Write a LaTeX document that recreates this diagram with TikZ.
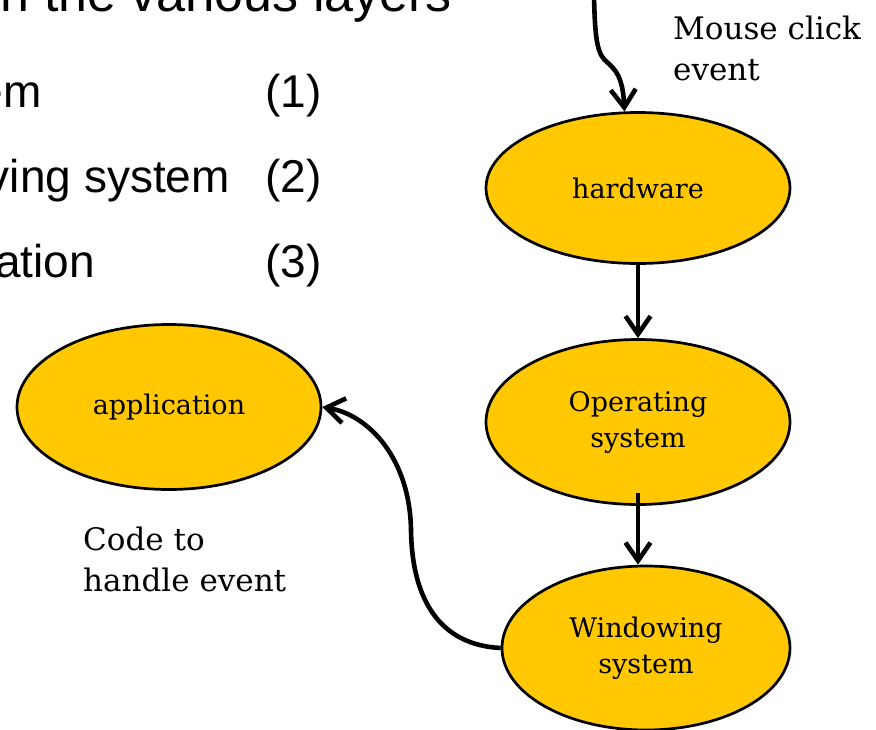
\documentclass[tikz,border=0pt]{standalone}
\usepackage{fontspec}
\setmainfont{DejaVu Serif}
\newfontfamily\arialfont{Liberation Sans}
\usetikzlibrary{arrows.meta,shapes.geometric}
\definecolor{gold}{RGB}{255,200,0}
\tikzset{
 layer/.style={ellipse, draw=black, line width=2.7pt, fill=gold, inner sep=0pt,
   font=\fontsize{27}{36}\selectfont, align=center},
 flow/.style={line width=4.6pt, -{Straight Barb[length=18pt,width=25pt]}},
 note/.style={font=\fontsize{31}{41}\selectfont, align=left, inner sep=0pt},
 slide/.style={font=\arialfont\fontsize{46}{46}\selectfont, inner sep=0pt},
 slidetitle/.style={font=\arialfont\fontsize{52}{52}\selectfont, inner sep=0pt},
}
\begin{document}
\begin{tikzpicture}[x=1pt,y=-1pt]
\useasboundingbox (0,0) rectangle (876,729);
\clip (0,0) rectangle (876,729);

% slide text (cropped)
\node[slidetitle, anchor=base east] (t0) at (452,11) {n the various layers};
\node[slide, anchor=base east] (b1) at (42,107) {em};
\node[slide, anchor=base east] (b2) at (230,192) {ving system};
\node[slide, anchor=base east] (b3) at (95,277) {ation};
\node[slide, anchor=base west] (n1) at (265,107) {(1)};
\node[slide, anchor=base west] (n2) at (265,192) {(2)};
\node[slide, anchor=base west] (n3) at (265,277) {(3)};

% layers
\node[layer, minimum width=304pt, minimum height=151pt] (hw) at (638,188) {hardware};
\node[layer, minimum width=304pt, minimum height=165pt] (os) at (638,422) {Operating\\system};
\node[layer, minimum width=288pt, minimum height=164pt] (win) at (646,648) {Windowing\\system};
\node[layer, minimum width=304pt, minimum height=165pt] (app) at (169,407) {application};

% labels
\node[note, anchor=north west] (mouse) at (673,16) {Mouse click\\event};
\node[note, anchor=north west] (code) at (83,527) {Code to\\handle event};

% connectors
\coordinate (click) at (594,-5);
\draw[flow] (click) .. controls (595,45) and (598,55) .. (608,63)
   .. controls (620,73) and (623,85) .. (hw.100);
\draw[flow] (hw.south) -- (os.north);
\draw[flow] ([yshift=13pt]os.south) -- (os.south |- win.north);
\draw[flow] (win.west) .. controls (440,645) and (412,600) .. (411,530)
   .. controls (410,460) and (370,415) .. (app.east);
\end{tikzpicture}
\end{document}
